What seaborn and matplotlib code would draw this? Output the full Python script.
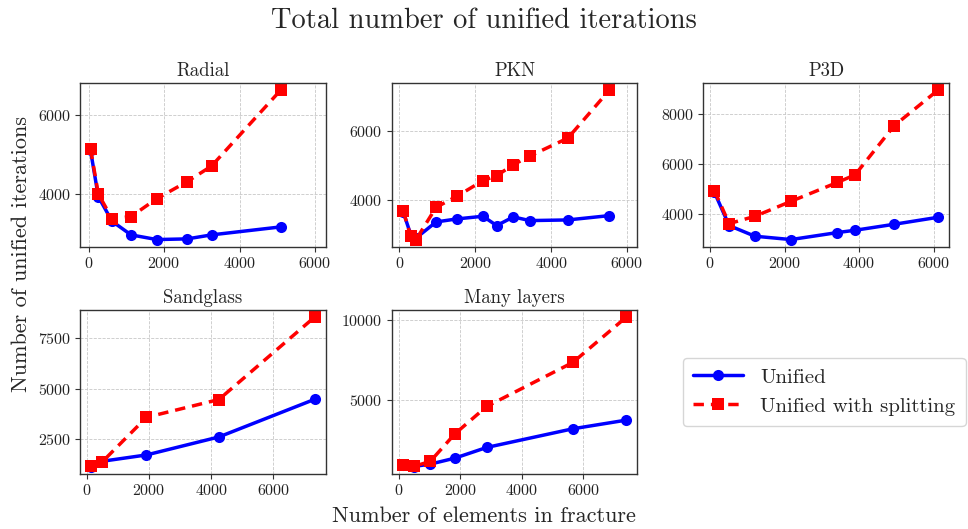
import matplotlib
matplotlib.use("Agg")
import matplotlib.pyplot as plt
import pandas as pd
import seaborn as sns

# Mesh sizes (number of fracture elements) and iteration counts per geometry
panels = ["Radial", "PKN", "P3D", "Sandglass", "Many layers"]

radial_x = [50, 257, 620, 1124, 1805, 2611, 3257, 5088]
radial_unified = [5110, 3930, 3305, 2958, 2839, 2856, 2958, 3161]
radial_split = [5150, 4000, 3373, 3424, 3881, 4314, 4712, 6644]

pkn_x = [106, 300, 440, 969, 1515, 2203, 2564, 3004, 3436, 4441, 5533]
pkn_unified = [3640, 3000, 2900, 3365, 3452, 3529, 3260, 3510, 3404, 3423, 3548]
pkn_split = [3673, 2952, 2856, 3788, 4106, 4558, 4702, 5019, 5269, 5788, 7173]

p3d_x = [117, 511, 1202, 2170, 3417, 3892, 4942, 6117]
p3d_unified = [4874, 3550, 3126, 2993, 3272, 3364, 3603, 3881]
p3d_split = [4940, 3629, 3921, 4517, 5272, 5576, 7536, 8954]

sand_x = [129, 495, 1914, 4247, 7333]
sand_unified = [1160, 1420, 1730, 2615, 4467]
sand_split = [1172, 1402, 3582, 4459, 8516]

layers_x = [130, 478, 1022, 1826, 2859, 5663, 7402]
layers_unified = [900, 830, 979, 1354, 2021, 3188, 3729]
layers_split = [917, 833, 1146, 2875, 4583, 7333, 10167]

series_labels = ["Unified", "Unified with splitting"]

xs = [radial_x, pkn_x, p3d_x, sand_x, layers_x]
unified = [radial_unified, pkn_unified, p3d_unified, sand_unified, layers_unified]
split = [radial_split, pkn_split, p3d_split, sand_split, layers_split]

yticks = [[4000, 6000], [4000, 6000], [4000, 6000, 8000],
          [2500, 5000, 7500], [5000, 10000]]
xlims = {"Radial": (-230, 6283), "PKN": (-203, 6273)}

sns.set_style("white")
plt.rcParams.update({
    "font.family": ["cmr10", "DejaVu Serif"],
    "mathtext.fontset": "cm",
    "axes.formatter.use_mathtext": True,
    "axes.edgecolor": "#333333",
    "axes.linewidth": 1.0,
    "xtick.bottom": True,
    "ytick.left": True,
    "xtick.major.size": 3.5,
    "ytick.major.size": 3.5,
    "xtick.color": "#333333",
    "ytick.color": "#333333",
    "xtick.labelcolor": "#222222",
    "ytick.labelcolor": "#222222",
})

fig, axes = plt.subplots(2, 3, figsize=(9.68, 5.29), dpi=100)
fig.subplots_adjust(left=0.0826, right=0.9805, top=0.8437, bottom=0.104,
                    wspace=0.268, hspace=0.381)
axes = axes.ravel()

for i, name in enumerate(panels):
    ax = axes[i]
    df = pd.DataFrame({"elements": xs[i], "unified": unified[i], "split": split[i]})
    sns.lineplot(data=df, x="elements", y="unified", ax=ax, color="blue",
                 marker="o", markersize=8, markeredgewidth=0, linewidth=2.5,
                 label=series_labels[0], legend=False, sort=False)
    sns.lineplot(data=df, x="elements", y="split", ax=ax, color="red",
                 marker="s", markersize=8, markeredgewidth=0, linewidth=2.5,
                 linestyle="--", dashes=False, label=series_labels[1],
                 legend=False, sort=False)
    ax.lines[1].set_linestyle((0, (3.0, 2.0)))
    ax.set_title(name, fontsize=13.5, pad=5)
    ax.set_xlabel("")
    ax.set_ylabel("")
    ax.set_xticks([0, 2000, 4000, 6000])
    ax.set_yticks(yticks[i])
    if name in xlims:
        ax.set_xlim(*xlims[name])
    ax.tick_params(labelsize=11.5, pad=3)
    ax.grid(True, linestyle="--", linewidth=0.6, color="#c8c8c8")
    ax.set_axisbelow(True)

axes[5].axis("off")

handles, labels = axes[0].get_legend_handles_labels()
fig.legend(handles, labels, loc="center left",
           bbox_to_anchor=(683 / 968, 1 - 392 / 529), borderaxespad=0,
           fontsize=15, frameon=True, edgecolor="#cccccc", fancybox=True,
           handlelength=2.4, handletextpad=0.8, borderpad=0.5,
           labelspacing=0.5)

fig.suptitle("Total number of unified iterations", fontsize=20.5, y=0.985)
fig.supylabel("Number of unified iterations", fontsize=16, x=0.012, y=0.52)
fig.supxlabel("Number of elements in fracture", fontsize=16, x=0.5, y=0.005)

fig.savefig("out.png", dpi=100)
